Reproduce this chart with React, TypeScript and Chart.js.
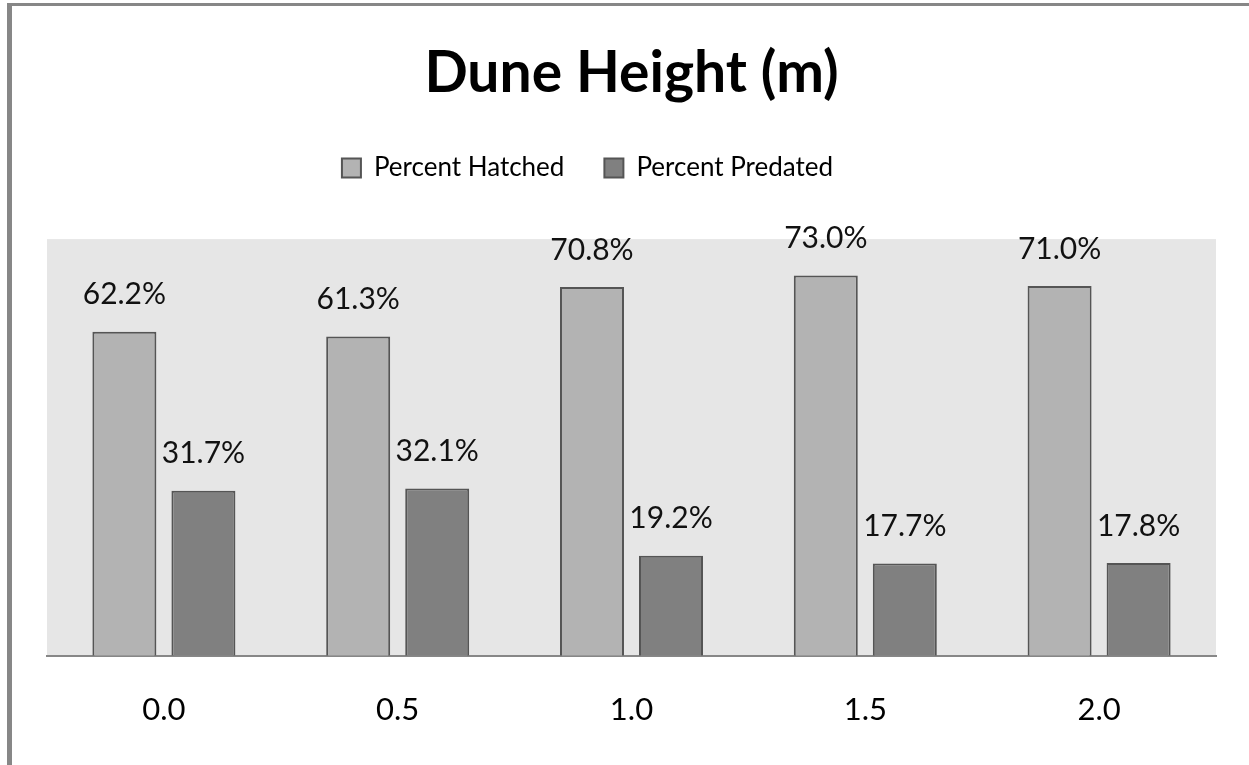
import { useEffect, useRef } from 'react';
import { Chart, registerables } from 'chart.js';

Chart.register(...registerables);

const chartTitle = 'Dune Height (m)';
const categories = ['0.0', '0.5', '1.0', '1.5', '2.0'];
const seriesLabels = ['Percent Hatched', 'Percent Predated'];
const percentHatched = [62.2, 61.3, 70.8, 73.0, 71.0];
const percentPredated = [31.7, 32.1, 19.2, 17.7, 17.8];
const yMax = 80;

const FONT = 'Lato, "Open Sans", "DejaVu Sans", sans-serif';

export default function App() {
  const ref = useRef<HTMLCanvasElement>(null);

  useEffect(() => {
    const canvas = ref.current;
    if (!canvas) return;

    const framePlugin = {
      id: 'frame',
      beforeDraw(chart: any) {
        const { ctx, chartArea } = chart;
        ctx.save();
        ctx.fillStyle = '#ffffff';
        ctx.fillRect(0, 0, chart.width, chart.height);
        ctx.fillStyle = '#878787';
        ctx.fillRect(7, 3, 5, chart.height - 3);
        ctx.fillRect(7, 3, chart.width - 7, 3);
        ctx.fillStyle = '#e6e6e6';
        ctx.fillRect(
          chartArea.left,
          chartArea.top,
          chartArea.right - chartArea.left,
          chartArea.bottom - chartArea.top
        );
        ctx.restore();
      },
    };

    const legendShift = {
      id: 'legendShift',
      afterLayout(chart: any) {
        const lg = chart.legend;
        if (lg) {
          lg.left -= 44;
          lg.right -= 44;
        }
      },
    };

    const valueLabels = {
      id: 'valueLabels',
      afterDatasetsDraw(chart: any) {
        const { ctx } = chart;
        ctx.save();
        ctx.font = `30px ${FONT}`;
        ctx.fillStyle = '#111111';
        ctx.textAlign = 'center';
        ctx.textBaseline = 'middle';
        chart.data.datasets.forEach((ds: any, i: number) => {
          const meta = chart.getDatasetMeta(i);
          meta.data.forEach((el: any, j: number) => {
            const v = ds.data[j] as number;
            ctx.fillText(v.toFixed(1) + '%', el.x, el.y - 37);
          });
        });
        ctx.restore();
      },
    };

    const chart = new Chart(canvas, {
      type: 'bar',
      data: {
        labels: categories,
        datasets: [
          {
            label: seriesLabels[0],
            data: percentHatched,
            backgroundColor: '#b3b3b3',
            borderColor: '#555555',
            borderWidth: 2,
            categoryPercentage: 0.676,
            barPercentage: 0.81,
          },
          {
            label: seriesLabels[1],
            data: percentPredated,
            backgroundColor: '#808080',
            borderColor: '#555555',
            borderWidth: 2,
            categoryPercentage: 0.676,
            barPercentage: 0.81,
          },
        ],
      },
      options: {
        responsive: false,
        animation: false,
        devicePixelRatio: 1,
        layout: { padding: { left: 47, right: 33, top: 0, bottom: 0 } },
        plugins: {
          title: {
            display: true,
            text: chartTitle,
            color: '#000000',
            font: { family: FONT, size: 57, weight: 'bold' },
            padding: { top: 39, bottom: 7.5 },
          },
          subtitle: {
            display: true,
            text: '',
            weight: 500,
            font: { size: 1 },
            padding: { top: 47, bottom: 0 },
          } as any,
          legend: {
            display: true,
            position: 'top',
            labels: {
              color: '#000000',
              font: { family: FONT, size: 26 },
              boxWidth: 19,
              boxHeight: 19,
              padding: 40,
            },
          },
          tooltip: { enabled: false },
        },
        scales: {
          x: {
            grid: { display: false, drawTicks: false },
            border: { display: true, color: '#878787', width: 2 },
            ticks: {
              color: '#000000',
              font: { family: FONT, size: 31 },
              padding: 36,
            },
          },
          y: {
            display: false,
            min: 0,
            max: yMax,
          },
        },
      },
      plugins: [framePlugin, legendShift, valueLabels],
    });

    return () => chart.destroy();
  }, []);

  return (
    <div style={{ position: 'absolute', left: 0, top: 0, width: 1249, height: 765 }}>
      <canvas ref={ref} width={1249} height={765} />
    </div>
  );
}
